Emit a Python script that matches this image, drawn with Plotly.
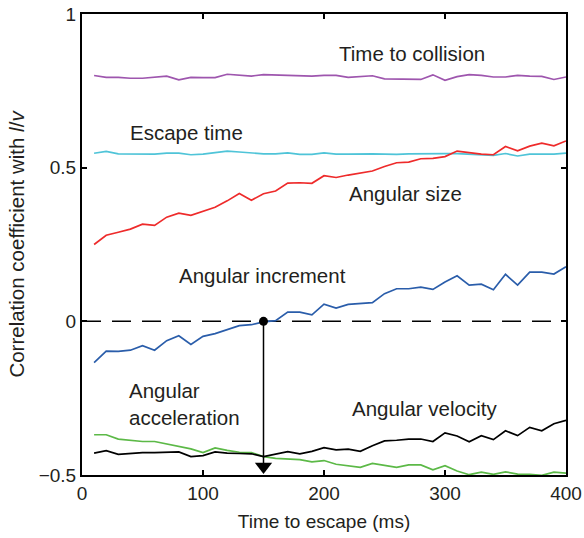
import plotly.graph_objects as go

time_ms = [10, 20, 30, 40, 50, 60, 70, 80, 90, 100, 110, 120, 130, 140, 150, 160, 170, 180, 190, 200,
           210, 220, 230, 240, 250, 260, 270, 280, 290, 300, 310, 320, 330, 340, 350, 360, 370, 380, 390, 400]

time_to_collision = [0.800, 0.794, 0.794, 0.791, 0.791, 0.794, 0.798, 0.786, 0.794, 0.793,
                     0.793, 0.804, 0.800, 0.798, 0.803, 0.802, 0.801, 0.800, 0.798, 0.800,
                     0.800, 0.794, 0.797, 0.799, 0.789, 0.788, 0.788, 0.787, 0.802, 0.784,
                     0.796, 0.803, 0.800, 0.795, 0.795, 0.800, 0.798, 0.797, 0.787, 0.795]

escape_time = [0.547, 0.553, 0.545, 0.545, 0.544, 0.544, 0.547, 0.547, 0.542, 0.544,
               0.549, 0.554, 0.551, 0.547, 0.545, 0.545, 0.548, 0.543, 0.543, 0.548,
               0.544, 0.544, 0.545, 0.545, 0.544, 0.543, 0.545, 0.546, 0.546, 0.546,
               0.546, 0.544, 0.543, 0.540, 0.546, 0.538, 0.544, 0.543, 0.544, 0.547]

angular_size = [0.250, 0.280, 0.290, 0.300, 0.316, 0.312, 0.339, 0.352, 0.345, 0.357,
                0.371, 0.392, 0.416, 0.394, 0.415, 0.424, 0.450, 0.451, 0.449, 0.474,
                0.468, 0.476, 0.483, 0.489, 0.504, 0.516, 0.518, 0.529, 0.530, 0.536,
                0.554, 0.548, 0.544, 0.542, 0.569, 0.555, 0.570, 0.580, 0.571, 0.587]

angular_increment = [-0.134, -0.097, -0.098, -0.094, -0.079, -0.094, -0.063, -0.047, -0.075, -0.049,
                     -0.040, -0.026, -0.014, -0.011, -0.002, 0.002, 0.030, 0.030, 0.021, 0.056,
                     0.043, 0.055, 0.057, 0.061, 0.090, 0.106, 0.106, 0.111, 0.104, 0.128,
                     0.148, 0.118, 0.121, 0.103, 0.153, 0.118, 0.160, 0.160, 0.154, 0.178]

angular_acceleration = [-0.369, -0.369, -0.383, -0.386, -0.391, -0.391, -0.399, -0.407, -0.415, -0.427,
                        -0.412, -0.420, -0.426, -0.427, -0.440, -0.446, -0.448, -0.450, -0.457, -0.453,
                        -0.465, -0.469, -0.475, -0.462, -0.469, -0.475, -0.467, -0.467, -0.483, -0.470,
                        -0.487, -0.499, -0.491, -0.498, -0.490, -0.497, -0.498, -0.501, -0.491, -0.494]

angular_velocity = [-0.429, -0.421, -0.433, -0.429, -0.427, -0.427, -0.427, -0.425, -0.440, -0.437,
                    -0.425, -0.429, -0.430, -0.431, -0.440, -0.431, -0.424, -0.431, -0.423, -0.411,
                    -0.418, -0.416, -0.423, -0.405, -0.389, -0.387, -0.383, -0.383, -0.391, -0.363,
                    -0.373, -0.392, -0.372, -0.385, -0.356, -0.372, -0.345, -0.356, -0.333, -0.322]

x_ticks = [0, 100, 200, 300, 400]
y_ticks = [-0.5, 0, 0.5, 1]
y_tick_labels = ["\u22120.5", "0", "0.5", "1"]

crossing_time = 150

series = [
    ("Time to collision", time_to_collision, "#9E56AE"),
    ("Escape time", escape_time, "#4FC4D8"),
    ("Angular size", angular_size, "#EE2B2B"),
    ("Angular increment", angular_increment, "#2A5DAA"),
    ("Angular acceleration", angular_acceleration, "#5CB947"),
    ("Angular velocity", angular_velocity, "#000000"),
]

fig = go.Figure()

fig.add_trace(go.Scatter(x=[0, 400], y=[0, 0], mode="lines",
                         line=dict(color="black", width=1.5, dash="19px,11px"),
                         showlegend=False, hoverinfo="skip"))

for name, vals, col in series:
    fig.add_trace(go.Scatter(x=time_ms, y=vals, mode="lines", name=name,
                             line=dict(color=col, width=1.7), showlegend=False))

fig.add_trace(go.Scatter(x=[crossing_time, crossing_time], y=[0, -0.47], mode="lines",
                         line=dict(color="black", width=1.5), showlegend=False, hoverinfo="skip"))
fig.add_trace(go.Scatter(x=[crossing_time], y=[0], mode="markers",
                         marker=dict(color="black", size=9), showlegend=False))
fig.add_trace(go.Scatter(x=[crossing_time], y=[-0.472], mode="markers",
                         marker=dict(color="black", size=15, symbol="triangle-down"),
                         showlegend=False))

font = dict(family="Liberation Sans, Arial, sans-serif", size=19, color="#231F20")
label_font = dict(family="Liberation Sans, Arial, sans-serif", size=20.5, color="#231F20")

labels = [
    ("Time to collision", 273, 0.87),
    ("Escape time", 86, 0.614),
    ("Angular size", 267, 0.416),
    ("Angular increment", 149, 0.149),
    ("Angular velocity", 283, -0.282),
]
for text, xv, yv in labels:
    fig.add_annotation(x=xv, y=yv, text=text, showarrow=False, font=label_font, xanchor="center")
fig.add_annotation(x=37, y=-0.27, text="Angular<br>acceleration", showarrow=False,
                   font=label_font, xanchor="left", align="left")

axis_common = dict(showline=True, linecolor="black", linewidth=2, mirror="ticks",
                   ticks="inside", ticklen=5, tickwidth=1.5, tickcolor="black",
                   showgrid=False, zeroline=False, tickfont=font, automargin=False)

fig.update_layout(
    width=584, height=538,
    margin=dict(l=82, r=18, t=14, b=63),
    plot_bgcolor="white", paper_bgcolor="white",
    xaxis=dict(range=[0, 400], tickvals=x_ticks,
               title=dict(text="Time to escape (ms)", font=font, standoff=12), **axis_common),
    yaxis=dict(range=[-0.5, 1], tickvals=y_ticks, ticktext=y_tick_labels,
               title=dict(text="Correlation coefficient with <i>l</i>/<i>v</i>",
                          font=label_font, standoff=9),
               **axis_common),
)

fig.write_html("out.html", config={"displayModeBar": False},
               post_script="document.body.style.margin='0px';document.body.style.overflow='hidden';")
